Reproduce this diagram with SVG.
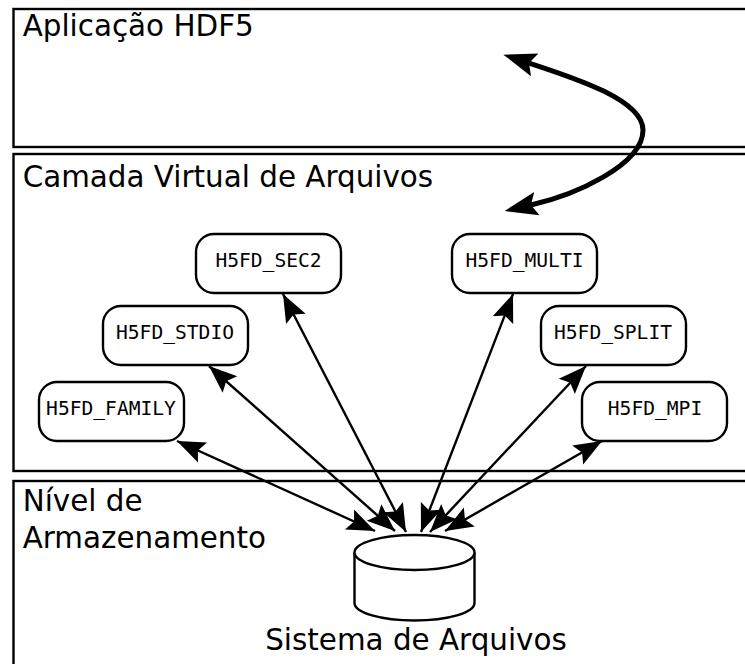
<svg xmlns="http://www.w3.org/2000/svg" width="745" height="664" viewBox="0 0 745 664">
<style>
.layer{fill:#fff;stroke:#000;stroke-width:2.4}
.t{font-family:"DejaVu Sans",sans-serif;font-size:29.4px;fill:#000}
.m{font-family:"DejaVu Sans Mono",monospace;font-size:19.6px;fill:#000;text-anchor:middle}
.n{fill:#fff;stroke:#000;stroke-width:2.4}
.c{fill:none;stroke:#000;stroke-width:2.4;marker-start:url(#a);marker-end:url(#a)}
.b{fill:none;stroke:#000;stroke-width:5;marker-start:url(#b);marker-end:url(#b)}
</style>
<defs>
<marker id="a" markerUnits="userSpaceOnUse" markerWidth="30" markerHeight="24" refX="28" refY="11" orient="auto-start-reverse" viewBox="0 0 30 22"><path d="M0 0L28 11L0 22L5 11Z" fill="#000"/></marker>
<marker id="b" markerUnits="userSpaceOnUse" markerWidth="36" markerHeight="26" refX="6" refY="12" orient="auto-start-reverse" viewBox="0 0 36 24"><path d="M0 0L33 12L0 24L6 12Z" fill="#000"/></marker>
</defs>
<g id="layer-app"><rect class="layer" x="13.5" y="9" width="740" height="138"/><text class="t" x="22.700" y="36">Aplicação HDF5</text></g>
<g id="layer-vfl"><rect class="layer" x="13.5" y="154" width="740" height="317"/><text class="t" x="22.700" y="187">Camada Virtual de Arquivos</text></g>
<g id="layer-storage"><rect class="layer" x="13.5" y="481" width="740" height="190"/><text class="t" x="22.700" y="511">Nível de</text><text class="t" x="22.700" y="548">Armazenamento</text></g>
<g id="connectors">
<path class="c" d="M177 441L375 531"/>
<path class="c" d="M209 366L395 531"/>
<path class="c" d="M283 294L406 532"/>
<path class="c" d="M513 294L421 532"/>
<path class="c" d="M586 366L430 532"/>
<path class="c" d="M602 441L445 531"/>
<path class="b" d="M529 63C575 78 643 100 643 130C643 165 575 195 531 205"/>
</g>
<g id="H5FD_SEC2"><rect class="n" x="196" y="234" width="145" height="59" rx="18"/><text class="m" x="268.5" y="267">H5FD_SEC2</text></g>
<g id="H5FD_MULTI"><rect class="n" x="452" y="234" width="145" height="59" rx="18"/><text class="m" x="524.5" y="267">H5FD_MULTI</text></g>
<g id="H5FD_STDIO"><rect class="n" x="103" y="306" width="145" height="59" rx="18"/><text class="m" x="175" y="339">H5FD_STDIO</text></g>
<g id="H5FD_SPLIT"><rect class="n" x="541" y="306" width="145" height="59" rx="18"/><text class="m" x="613" y="339">H5FD_SPLIT</text></g>
<g id="H5FD_FAMILY"><rect class="n" x="39" y="382" width="145" height="59" rx="18"/><text class="m" x="111" y="415">H5FD_FAMILY</text></g>
<g id="H5FD_MPI"><rect class="n" x="582" y="382" width="145" height="59" rx="18"/><text class="m" x="655" y="415">H5FD_MPI</text></g>
<g id="filesystem"><path class="n" d="M354.500 552.500V603A60 17.500 0 0 0 474.500 603V552.500"/><ellipse class="n" cx="414.500" cy="552.500" rx="60" ry="17.500"/><text class="t" x="416" y="650" text-anchor="middle">Sistema de Arquivos</text></g>
</svg>
